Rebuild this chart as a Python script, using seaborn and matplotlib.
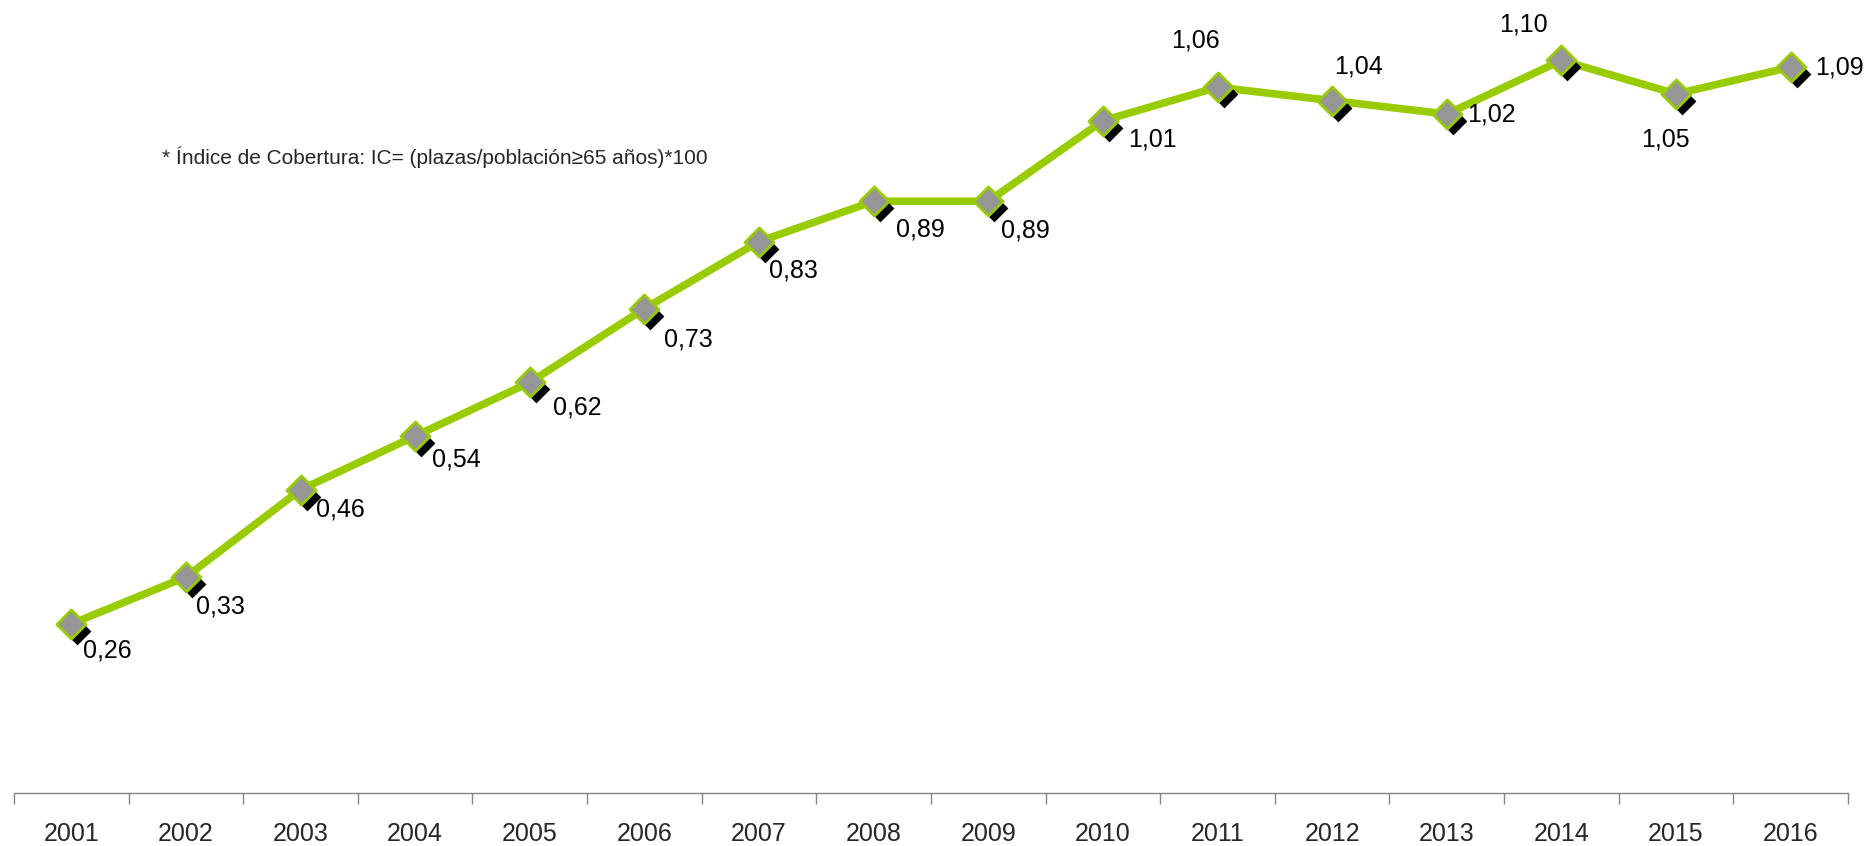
import numpy as np
import pandas as pd
import matplotlib
matplotlib.use("Agg")
import matplotlib.pyplot as plt
import matplotlib.transforms as mtransforms
import seaborn as sns

# ── Data ──────────────────────────────────────────────
years  = ["2001", "2002", "2003", "2004", "2005", "2006", "2007", "2008",
          "2009", "2010", "2011", "2012", "2013", "2014", "2015", "2016"]
values = [0.26, 0.33, 0.46, 0.54, 0.62, 0.73, 0.83, 0.89,
          0.89, 1.01, 1.06, 1.04, 1.02, 1.10, 1.05, 1.09]
labels = [f"{v:.2f}".replace(".", ",") for v in values]

# label offsets in pixels (dx, dy) and horizontal alignment
label_dx = [12, 10, 15, 17, 23, 20, 10, 22, 13, 25, -22, 26, 20, -38, -11, 24]
label_dy = [-27, -30, -20, -23, -25, -31, -29, -28, -29, -19, 47, 34, 0, 36, -46, 0]
label_ha = ["left", "left", "left", "left", "left", "left", "left", "left",
            "left", "left", "center", "center", "left", "center", "center", "left"]

GREEN = "#99CC00"
GREY  = "#969696"

df = pd.DataFrame({"x": np.arange(len(years)), "value": values})

sns.set_theme(style="white")
plt.rcParams["font.family"] = ["Liberation Sans", "DejaVu Sans"]

fig = plt.figure(figsize=(18.68, 8.46), dpi=100)
ax = fig.add_axes([14 / 1868, 1 - 793 / 846, (1848 - 14) / 1868, 793 / 846])

sns.lineplot(data=df, x="x", y="value", ax=ax, color=GREEN, linewidth=5.5, zorder=2)

# marker shadow, offset down-right
shadow = mtransforms.offset_copy(ax.transData, fig=fig, x=6, y=-7, units="dots")
ax.scatter(df["x"], df["value"], marker="D", s=200, color="black",
           transform=shadow, zorder=3, linewidths=0)
ax.scatter(df["x"], df["value"], marker="D", s=220, color=GREY,
           edgecolor=GREEN, linewidths=2, zorder=4)

for i, (v, lab) in enumerate(zip(values, labels)):
    ax.annotate(lab, (i, v), xytext=(label_dx[i], label_dy[i]),
                textcoords="offset pixels", ha=label_ha[i], va="center",
                fontsize=18, color="black", zorder=5)

ax.set_xlim(-0.5, len(years) - 0.5)
ax.set_ylim(0.008, 1.19)
ax.set_xlabel("")
ax.set_ylabel("")
ax.set_yticks([])

ax.set_xticks(np.arange(len(years)))
ax.set_xticklabels(years, fontsize=18)
ax.set_xticks(np.arange(-0.5, len(years)), minor=True)
ax.tick_params(axis="x", which="major", length=0, pad=21)
ax.tick_params(axis="x", which="minor", bottom=True, length=8, width=1, color="#868686")

for side in ["top", "right", "left"]:
    ax.spines[side].set_visible(False)
ax.spines["bottom"].set_color("#868686")
ax.spines["bottom"].set_linewidth(1)

fig.text(162 / 1868, 1 - 157 / 846,
         "* Índice de Cobertura: IC= (plazas/población≥65 años)*100",
         fontsize=15, va="center", ha="left")

fig.savefig("out.png", dpi=100)
